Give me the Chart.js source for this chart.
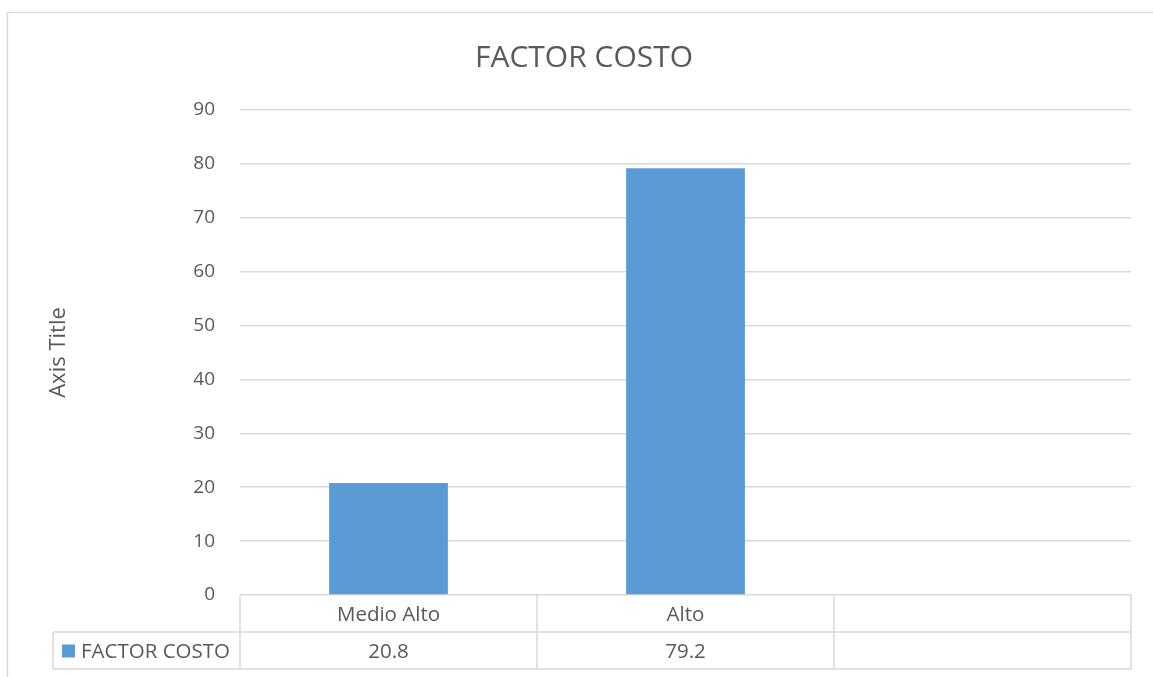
<!DOCTYPE html>
<html>
<head>
<meta charset="utf-8">
<script src="https://cdn.jsdelivr.net/npm/chart.js@4/dist/chart.umd.min.js"></script>
<style>
  html, body { margin: 0; padding: 0; background: #fff; }
  #wrap { width: 1153px; height: 677px; position: relative; }
</style>
</head>
<body>
<div id="wrap"><canvas id="grafico"></canvas></div>
<script>
// Datos del gráfico
const categorias = ['Medio Alto', 'Alto', ''];
const valores = [20.8, 79.2, null];
const nombreSerie = 'FACTOR COSTO';
const tituloGrafico = 'FACTOR COSTO';
const tituloEjeY = 'Axis Title';

const colorBarra = '#5B9BD5';
const colorTexto = '#595959';
const colorLinea = '#D9D9D9';
const fuente = '"Open Sans", sans-serif';

// Marco, título y tabla de datos debajo del eje
const tablaPlugin = {
  id: 'tablaDatos',
  afterDraw(chart) {
    const ctx = chart.ctx;
    const area = chart.chartArea;
    const x = chart.scales.x;
    const anchoCat = (area.right - area.left) / categorias.length;
    const filaAlto = 37;
    const y0 = area.bottom;
    const y1 = y0 + filaAlto;
    const y2 = y1 + filaAlto;
    const leyendaIzq = 53;

    ctx.save();
    // marco del gráfico
    ctx.strokeStyle = colorLinea;
    ctx.lineWidth = 1.5;
    ctx.beginPath();
    ctx.moveTo(7.5, 677);
    ctx.lineTo(7.5, 12.5);
    ctx.lineTo(1153, 12.5);
    ctx.stroke();

    // título
    ctx.fillStyle = colorTexto;
    ctx.font = '30px ' + fuente;
    ctx.textAlign = 'center';
    ctx.textBaseline = 'middle';
    ctx.fillText(tituloGrafico, 584, 58);

    // líneas de la tabla
    ctx.beginPath();
    for (let i = 0; i <= categorias.length; i++) {
      const xx = area.left + i * anchoCat;
      ctx.moveTo(xx, y0);
      ctx.lineTo(xx, y2);
    }
    ctx.moveTo(leyendaIzq, y1);
    ctx.lineTo(area.right, y1);
    ctx.moveTo(leyendaIzq, y2);
    ctx.lineTo(area.right, y2);
    ctx.moveTo(leyendaIzq, y1);
    ctx.lineTo(leyendaIzq, y2);
    ctx.stroke();

    // textos de la tabla
    ctx.font = '20.5px ' + fuente;
    ctx.fillStyle = colorTexto;
    categorias.forEach((c, i) => {
      const cx = x.getPixelForValue(i);
      ctx.fillText(c, cx, (y0 + y1) / 2 + 1.5);
      const v = valores[i];
      if (v !== null && v !== undefined) {
        ctx.fillText(String(v), cx, (y1 + y2) / 2 + 1.5);
      }
    });

    // leyenda de la serie
    ctx.fillStyle = colorBarra;
    ctx.fillRect(62, (y1 + y2) / 2 - 6, 13, 13);
    ctx.fillStyle = colorTexto;
    ctx.textAlign = 'left';
    ctx.fillText(nombreSerie, 81, (y1 + y2) / 2 + 1.5);
    ctx.restore();
  }
};

new Chart(document.getElementById('grafico'), {
  type: 'bar',
  data: {
    labels: categorias,
    datasets: [{
      label: nombreSerie,
      data: valores,
      backgroundColor: colorBarra,
      borderWidth: 0,
      barPercentage: 0.4,
      categoryPercentage: 1
    }]
  },
  options: {
    responsive: true,
    maintainAspectRatio: false,
    animation: false,
    layout: {
      padding: { top: 110, right: 22, bottom: 8, left: 0 }
    },
    plugins: {
      legend: { display: false },
      tooltip: { enabled: false },
      title: { display: false }
    },
    scales: {
      x: {
        grid: { display: false },
        border: { display: false },
        ticks: { display: false },
        afterFit(scale) { scale.height = 74; }
      },
      y: {
        min: 0,
        max: 90,
        ticks: {
          stepSize: 10,
          color: colorTexto,
          padding: 25,
          font: { size: 19, family: fuente }
        },
        grid: { color: colorLinea, lineWidth: 1.5, drawTicks: false },
        border: { display: false },
        title: {
          display: true,
          text: tituloEjeY,
          color: colorTexto,
          font: { size: 22, family: fuente },
          padding: { top: 46, bottom: 0 }
        },
        afterFit(scale) { scale.width = 240; }
      }
    }
  },
  plugins: [tablaPlugin]
});
</script>
</body>
</html>
